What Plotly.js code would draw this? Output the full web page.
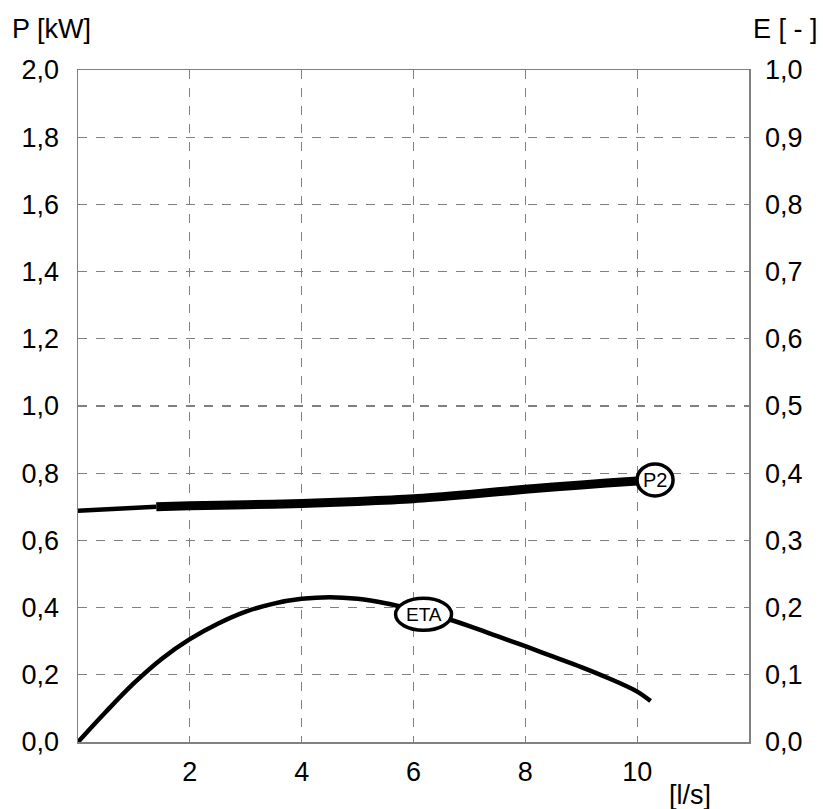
<!DOCTYPE html>
<html>
<head>
<meta charset="utf-8">
<script src="https://cdn.plot.ly/plotly-3.0.1.min.js"></script>
<style>html,body{margin:0;padding:0;background:#fff;}#chart{width:823px;height:809px;}</style>
</head>
<body>
<div id="chart"></div>
<script>
// Flow rate [l/s]
const flowP2Start = [0, 0.7, 1.4];
const p2Start = [0.688, 0.694, 0.700];
const flowP2 = [1.4, 2, 3, 4, 5, 6, 7, 8, 9, 10, 10.2];
const p2 = [0.700, 0.703, 0.706, 0.710, 0.716, 0.724, 0.737, 0.752, 0.765, 0.777, 0.779];
const flowEta = [0, 0.5, 1, 1.5, 2, 2.5, 3, 3.5, 4, 4.5, 5, 5.5, 6, 6.5, 7, 7.5, 8, 8.5, 9, 9.5, 10, 10.24];
const eta = [0, 0.045, 0.0875, 0.124, 0.153, 0.176, 0.194, 0.206, 0.213, 0.2155, 0.213, 0.2065, 0.197, 0.186, 0.1725, 0.1575, 0.1425, 0.127, 0.1115, 0.0945, 0.075, 0.061];
const xTicks = [2, 4, 6, 8, 10];
const yLeftTicks = [0, 0.2, 0.4, 0.6, 0.8, 1.0, 1.2, 1.4, 1.6, 1.8, 2.0];
const yRightTicks = [0, 0.1, 0.2, 0.3, 0.4, 0.5, 0.6, 0.7, 0.8, 0.9, 1.0];
// curve labels
const labelP2 = {text: 'P2', x: 10.32, y: 0.78};
const labelEta = {text: 'ETA', x: 6.18, y: 0.19};

const font = 'Liberation Sans, Arial, sans-serif';

const traces = [
  {x: flowP2Start, y: p2Start, mode: 'lines', line: {color: '#000', width: 4.5}, yaxis: 'y', hoverinfo: 'skip'},
  {x: flowP2, y: p2, mode: 'lines', line: {color: '#000', width: 9, shape: 'spline', smoothing: 0.8}, yaxis: 'y', hoverinfo: 'skip'},
  {x: flowEta, y: eta, mode: 'lines', line: {color: '#000', width: 4.5, shape: 'spline', smoothing: 1}, yaxis: 'y2', hoverinfo: 'skip'}
];

function ellipse(lbl, yref, hw, hh) {
  return {type: 'circle', xref: 'x', yref: yref, xsizemode: 'pixel', ysizemode: 'pixel',
    xanchor: lbl.x, yanchor: lbl.y, x0: -hw, x1: hw, y0: -hh, y1: hh,
    fillcolor: '#fff', line: {color: '#000', width: 3.5}, layer: 'above'};
}

const layout = {
  width: 823, height: 809,
  margin: {l: 78, r: 74, t: 70, b: 67},
  paper_bgcolor: '#fff', plot_bgcolor: '#fff',
  separators: ',.',
  showlegend: false,
  font: {family: font, size: 27, color: '#000'},
  xaxis: {range: [0, 12], tickvals: xTicks, tickformat: 'd', showgrid: true, gridcolor: '#808080', griddash: 'dash', gridwidth: 1.2,
    showline: true, linecolor: '#808080', linewidth: 1.5, mirror: true, ticks: '', zeroline: false, ticklabelstandoff: 5},
  yaxis: {range: [0, 2], tickvals: yLeftTicks, tickformat: '.1f', showgrid: true, gridcolor: '#808080', griddash: 'dash', gridwidth: 1.2,
    showline: true, linecolor: '#808080', linewidth: 1.5, mirror: true, ticks: '', zeroline: false, ticklabelstandoff: 12},
  yaxis2: {range: [0, 1], tickvals: yRightTicks, tickformat: '.1f', overlaying: 'y', side: 'right', showgrid: false,
    showline: false, ticks: '', zeroline: false, ticklabelstandoff: 15},
  shapes: [ellipse(labelP2, 'y', 18, 16), ellipse(labelEta, 'y2', 28, 16)],
  annotations: [
    {text: labelP2.text, x: labelP2.x, y: labelP2.y, xref: 'x', yref: 'y', showarrow: false, font: {size: 20}},
    {text: labelEta.text, x: labelEta.x, y: labelEta.y, xref: 'x', yref: 'y2', showarrow: false, font: {size: 19}},
    {text: 'P [kW]', xref: 'paper', yref: 'paper', x: -0.101, y: 1.061, xanchor: 'left', yanchor: 'middle', showarrow: false, font: {size: 27}},
    {text: 'E [ - ]', xref: 'paper', yref: 'paper', x: 1.106, y: 1.061, xanchor: 'right', yanchor: 'middle', showarrow: false, font: {size: 27}},
    {text: '[l/s]', xref: 'paper', yref: 'paper', x: 0.912, y: -0.079, xanchor: 'center', yanchor: 'middle', showarrow: false, font: {size: 27}}
  ]
};

Plotly.newPlot('chart', traces, layout, {displayModeBar: false, staticPlot: true});
</script>
</body>
</html>
